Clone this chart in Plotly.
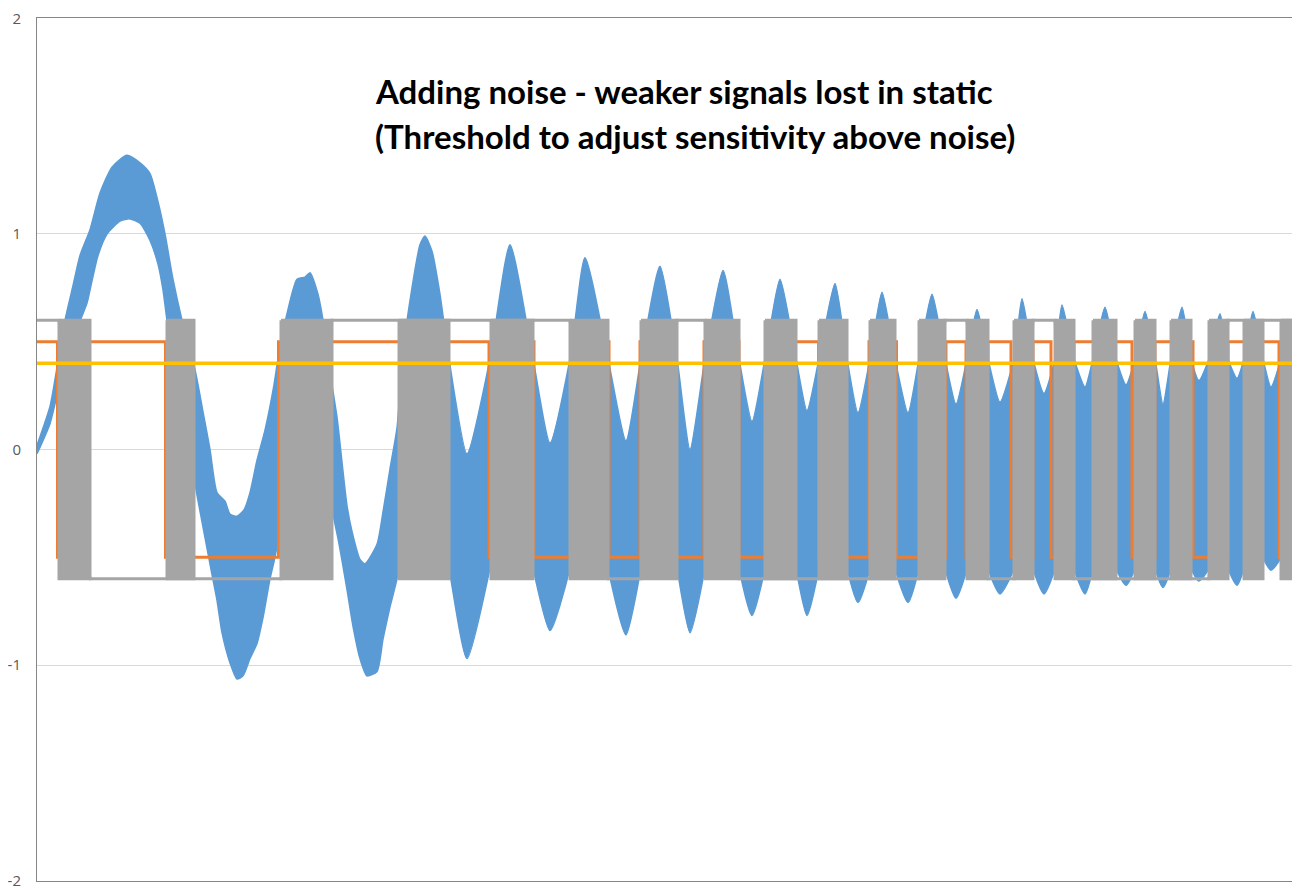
import plotly.graph_objects as go

# x axis is sample number, y is signal level
x_max = 1263
y_ticks = [-2, -1, 0, 1, 2]
y_tick_text = ['-2', '-1', '0', '1', '2']
threshold = 0.4

# noisy input signal: upper and lower edge of the noise band
blue_upper_x = [0, 13, 20, 28, 36, 43, 53, 63, 75, 90, 103, 113, 121, 128, 136, 145,
                158, 167, 173, 180, 188, 193, 200, 207, 213, 220, 228, 237, 241, 250,
                260, 268, 273, 281, 286, 295, 300, 310, 315, 323, 328, 340, 346, 353,
                360, 366, 375, 383, 388, 395, 403, 412, 430, 453, 473, 496, 513, 533,
                548, 571, 589, 604, 623, 640, 653, 668, 686, 702, 715, 728, 743, 759,
                770, 782, 798, 810, 821, 833, 845, 858, 871, 882, 895, 908, 919, 930,
                940, 951, 963, 977, 985, 996, 1007, 1018, 1025, 1037, 1048, 1056, 1068,
                1079, 1089, 1098, 1108, 1118, 1126, 1134, 1145, 1154, 1162, 1172, 1183,
                1191, 1200, 1207, 1216, 1226, 1234, 1244, 1252, 1260, 1263]
blue_upper = [0.02, 0.2, 0.38, 0.6, 0.76, 0.9, 1.02, 1.19, 1.31, 1.365, 1.33, 1.28, 1.15,
              1.0, 0.79, 0.6, 0.37, 0.15, 0.0, -0.2, -0.24, -0.3, -0.31, -0.28, -0.2,
              -0.05, 0.09, 0.3, 0.42, 0.63, 0.79, 0.8, 0.82, 0.72, 0.6, 0.3, 0.15, -0.26,
              -0.38, -0.51, -0.53, -0.44, -0.29, -0.09, 0.1, 0.45, 0.75, 0.95, 0.99, 0.92,
              0.72, 0.42, -0.02, 0.42, 0.95, 0.42, 0.03, 0.42, 0.89, 0.42, 0.04, 0.42,
              0.85, 0.42, 0.0, 0.42, 0.83, 0.42, 0.13, 0.42, 0.79, 0.42, 0.18, 0.42, 0.77,
              0.42, 0.17, 0.42, 0.73, 0.42, 0.17, 0.42, 0.72, 0.42, 0.21, 0.42, 0.65, 0.42,
              0.22, 0.42, 0.70, 0.42, 0.26, 0.42, 0.67, 0.42, 0.29, 0.42, 0.66, 0.42, 0.30,
              0.42, 0.64, 0.42, 0.21, 0.42, 0.66, 0.42, 0.32, 0.42, 0.63, 0.42, 0.33, 0.42,
              0.64, 0.42, 0.29, 0.42, 0.58, 0.42, 0.3]
blue_lower_x = [0, 13, 20, 35, 50, 53, 61, 70, 83, 93, 103, 113, 121, 126, 130, 145, 158,
                166, 175, 180, 185, 193, 200, 206, 213, 220, 226, 233, 238, 268, 300, 310,
                316, 323, 330, 340, 346, 353, 360, 388, 412, 430, 453, 473, 496, 513, 533,
                552, 571, 589, 604, 622, 640, 653, 668, 685, 702, 715, 728, 743, 759, 770,
                782, 796, 810, 821, 833, 845, 858, 871, 882, 895, 908, 919, 930, 940, 951,
                963, 977, 986, 996, 1007, 1018, 1027, 1037, 1048, 1056, 1067, 1079, 1089,
                1098, 1108, 1118, 1126, 1134, 1144, 1154, 1162, 1172, 1181, 1191, 1200,
                1207, 1216, 1226, 1234, 1244, 1252, 1260, 1263]
blue_lower = [-0.02, 0.12, 0.25, 0.5, 0.68, 0.74, 0.9, 1.0, 1.06, 1.07, 1.05, 0.97, 0.86,
              0.74, 0.6, 0.2, -0.16, -0.36, -0.58, -0.7, -0.85, -0.99, -1.065, -1.05,
              -0.97, -0.9, -0.78, -0.6, -0.5, 0.2, -0.39, -0.65, -0.82, -0.97, -1.05,
              -1.03, -0.88, -0.73, -0.6, 0.1, -0.55, -0.97, -0.55, 0.0, -0.55, -0.84,
              -0.55, 0.0, -0.55, -0.86, -0.55, 0.0, -0.55, -0.85, -0.55, 0.0, -0.55,
              -0.77, -0.55, 0.0, -0.55, -0.77, -0.55, 0.0, -0.55, -0.71, -0.55, 0.0,
              -0.55, -0.71, -0.55, 0.0, -0.55, -0.69, -0.55, 0.0, -0.55, -0.67, -0.55,
              0.0, -0.55, -0.67, -0.55, 0.0, -0.55, -0.67, -0.55, 0.0, -0.55, -0.63,
              -0.55, 0.0, -0.55, -0.64, -0.55, 0.0, -0.55, -0.61, -0.55, 0.0, -0.55,
              -0.63, -0.55, 0.0, -0.5, -0.56, -0.5, 0.0, -0.5, -0.5]

# clean detector output (orange), as steps
orange_x = [0, 20.5, 52, 128.5, 241.5, 452, 475, 497, 550, 572, 603, 620, 667, 702, 745,
            781.5, 832, 859.5, 909, 929, 951, 974, 996, 1014, 1037, 1095, 1118, 1156,
            1191, 1242, 1260, 1263]
orange_level = [0.5, -0.5, 0.5, -0.5, 0.5, -0.5, 0.5, -0.5, 0.5, -0.5, 0.5, -0.5, 0.5,
                -0.5, 0.5, -0.5, 0.5, -0.5, 0.5, -0.5, 0.5, -0.5, 0.5, -0.5, 0.5, -0.5,
                0.5, -0.5, 0.5, -0.5, 0.5, 0.5]

# noisy detector output (grey): chattering stretches and the level between them
chatter_start = [22, 130, 244, 362, 454, 533, 604, 668, 728, 782, 833, 882, 930, 977,
                 1018, 1056, 1098, 1134, 1172, 1207, 1244]
chatter_end = [53, 157, 295, 412, 496, 571, 640, 702, 759, 810, 858, 908, 951, 996,
               1037, 1079, 1118, 1154, 1191, 1226, 1260]
gray_level = [0.6, -0.6, -0.6, 0.6, 0.6, 0.6, -0.6, 0.6, -0.6, -0.6, -0.6, -0.6, 0.6,
              -0.6, 0.6, -0.6, -0.6, -0.6, -0.6, 0.6, 0.6, 0.6]

BLUE = '#5B9BD5'
ORANGE = '#ED7D31'
GRAY = '#A5A5A5'
YELLOW = '#FFC000'

fig = go.Figure()

# noise band
fig.add_trace(go.Scatter(
    x=blue_upper_x + blue_lower_x[::-1],
    y=blue_upper + blue_lower[::-1],
    fill='toself', fillcolor=BLUE,
    line=dict(color=BLUE, width=1.5, shape='spline', smoothing=0.6),
    mode='lines', hoverinfo='skip'
))

fig.add_trace(go.Scatter(
    x=orange_x, y=orange_level, mode='lines',
    line=dict(color=ORANGE, width=3, shape='hv')
))

# grey steady levels between chatter stretches
gap_starts = [0] + chatter_end
gap_ends = chatter_start + [x_max]
gx, gy = [], []
for a, b, lvl in zip(gap_starts, gap_ends, gray_level):
    gx += [a, b]
    gy += [lvl, lvl]
fig.add_trace(go.Scatter(x=gx, y=gy, mode='lines', line=dict(color=GRAY, width=3)))

# grey chatter blocks
bx, by = [], []
for a, b in zip(chatter_start, chatter_end):
    bx += [a, b, b, a, a, None]
    by += [0.6, 0.6, -0.6, -0.6, 0.6, None]
fig.add_trace(go.Scatter(
    x=bx, y=by, mode='lines', fill='toself', fillcolor=GRAY,
    line=dict(color=GRAY, width=3)
))

fig.add_trace(go.Scatter(
    x=[0, x_max], y=[threshold, threshold], mode='lines',
    line=dict(color=YELLOW, width=3.5)
))

title_font = dict(family='Lato, Open Sans, sans-serif', size=33, color='black')
fig.add_annotation(x=336, y=1.662, xref='x', yref='y', xanchor='left', yanchor='middle',
                   text='<b>Adding noise - weaker signals lost in static</b>',
                   showarrow=False, font=title_font)
fig.add_annotation(x=336, y=1.455, xref='x', yref='y', xanchor='left', yanchor='middle',
                   text='<b>(Threshold to adjust sensitivity above noise)</b>',
                   showarrow=False, font=title_font)

# page body has an 8px margin, so the figure is a bit smaller than the window
fig.update_layout(
    width=1292, height=882,
    margin=dict(l=29, r=0, t=4, b=6),
    paper_bgcolor='white', plot_bgcolor='white',
    showlegend=False,
    xaxis=dict(range=[0, x_max], showticklabels=False, showgrid=False, zeroline=False,
               showline=True, mirror=True, linecolor='#868686', linewidth=1, ticks=''),
    yaxis=dict(range=[-2.002, 2.002], tickvals=y_ticks, ticktext=y_tick_text,
               showgrid=True, gridcolor='#D9D9D9',
               zeroline=True, zerolinecolor='#D9D9D9', zerolinewidth=1,
               showline=True, linecolor='#868686', linewidth=1, ticks='',
               ticklabelstandoff=12, ticklabeloverflow='allow',
               tickfont=dict(family='Open Sans, sans-serif', size=15, color='#595959')),
)

fig.write_html("out.html")
